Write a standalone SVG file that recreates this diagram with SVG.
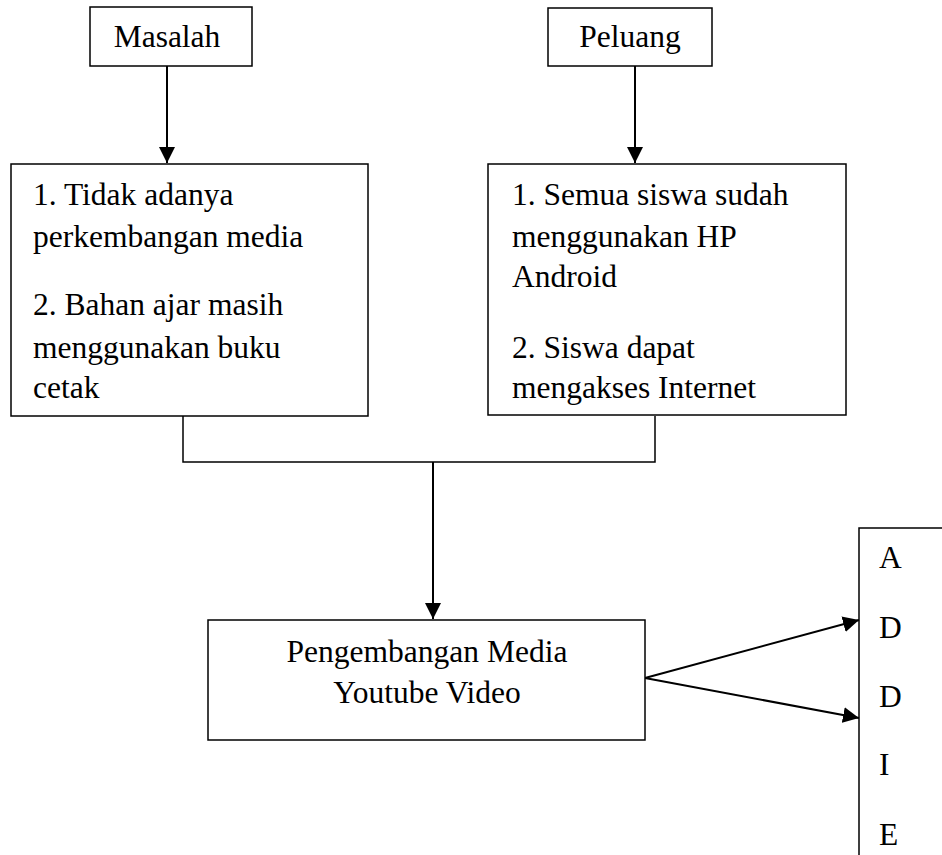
<svg xmlns="http://www.w3.org/2000/svg" width="942" height="855" viewBox="0 0 942 855">
<style>
.box{fill:#fff;stroke:#000;stroke-width:1.5}
text{font-family:'Liberation Serif','Times New Roman',Times,'DejaVu Serif',serif;font-size:31.5px;fill:#000}
.c{text-anchor:middle}
.ln{fill:none;stroke:#000;stroke-width:2}
.lc{fill:none;stroke:#000;stroke-width:1.5}
</style>
<defs>
<marker id="ah2" markerWidth="16" markerHeight="16" refX="16" refY="8" orient="auto" markerUnits="userSpaceOnUse" viewBox="0 0 16 16">
<path d="M0,0 L16,8 L0,16 Z" fill="#000"/>
</marker>
</defs>
<rect width="942" height="855" fill="#fff"/>
<g id="connectors">
<line class="ln" x1="167" y1="66" x2="167" y2="163" marker-end="url(#ah2)"/>
<line class="ln" x1="635" y1="66" x2="635" y2="163" marker-end="url(#ah2)"/>
<polyline class="lc" points="183,416 183,462 655,462 655,416"/>
<line class="ln" x1="433" y1="462" x2="433" y2="619" marker-end="url(#ah2)"/>
<line class="ln" x1="645" y1="678" x2="859" y2="620" marker-end="url(#ah2)"/>
<line class="ln" x1="645" y1="678" x2="859" y2="718" marker-end="url(#ah2)"/>
</g>
<g id="masalah">
<rect class="box" x="90" y="7" width="162" height="59"/>
<text class="c" x="167" y="47">Masalah</text>
</g>
<g id="peluang">
<rect class="box" x="548" y="8" width="164" height="58"/>
<text class="c" x="630" y="47">Peluang</text>
</g>
<g id="masalah-list">
<rect class="box" x="11" y="164" width="357" height="252"/>
<text x="33" y="205">1. Tidak adanya</text>
<text x="33" y="247">perkembangan media</text>
<text x="33" y="315">2. Bahan ajar masih</text>
<text x="33" y="358">menggunakan buku</text>
<text x="33" y="398">cetak</text>
</g>
<g id="peluang-list">
<rect class="box" x="488" y="164" width="358" height="251"/>
<text x="512" y="205">1. Semua siswa sudah</text>
<text x="512" y="247">menggunakan HP</text>
<text x="512" y="287">Android</text>
<text x="512" y="358">2. Siswa dapat</text>
<text x="512" y="398">mengakses Internet</text>
</g>
<g id="pengembangan">
<rect class="box" x="208" y="620" width="437" height="120"/>
<text class="c" x="427" y="662">Pengembangan Media</text>
<text class="c" x="427" y="703">Youtube Video</text>
</g>
<g id="addie">
<polyline class="lc" points="942,528 859,528 859,855"/>
<text x="879" y="568">A</text>
<text x="879" y="638">D</text>
<text x="879" y="707">D</text>
<text x="879" y="775">I</text>
<text x="879" y="845">E</text>
</g>
</svg>
